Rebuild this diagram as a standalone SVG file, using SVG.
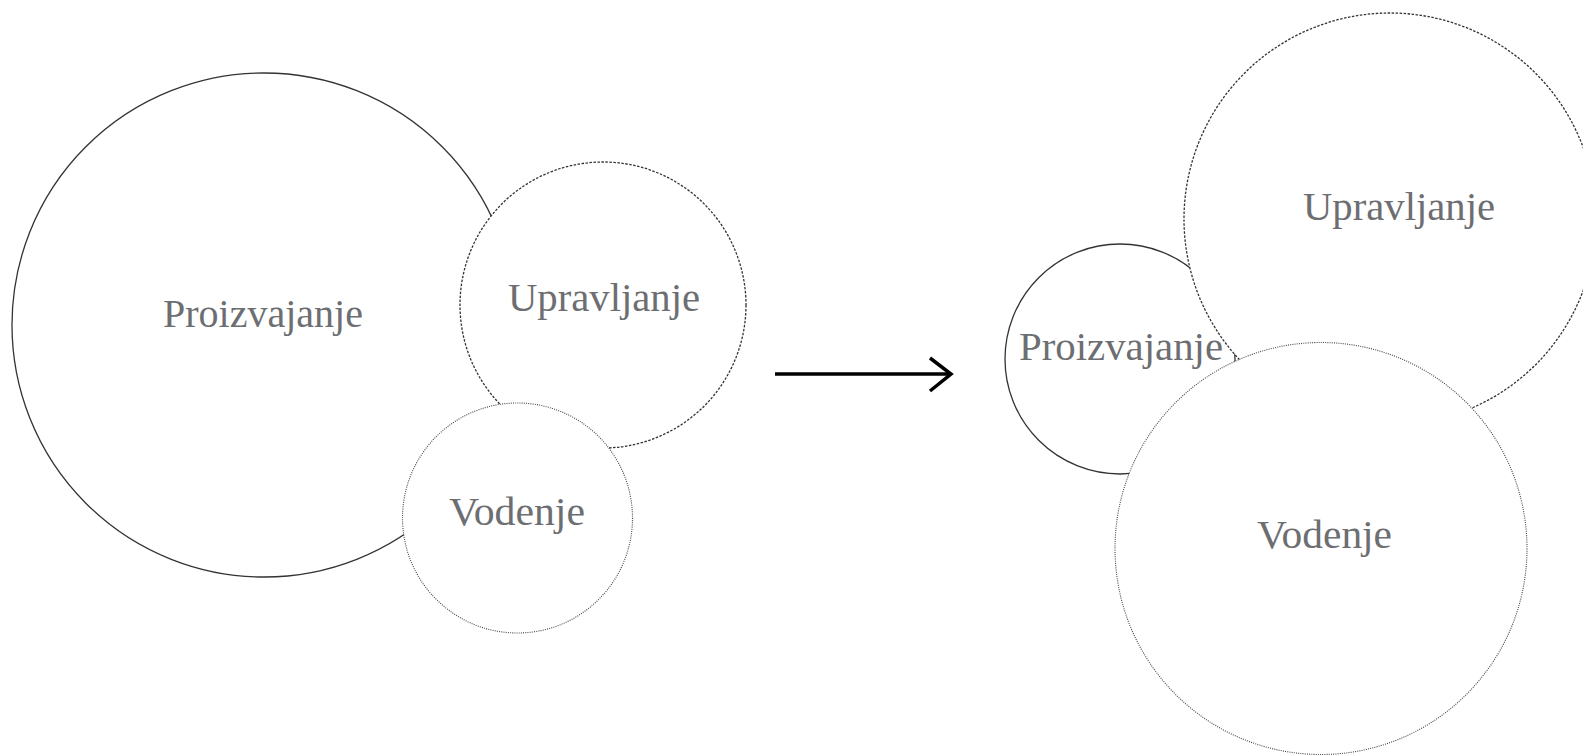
<svg xmlns="http://www.w3.org/2000/svg" width="1583" height="756" viewBox="0 0 1583 756">
<style>
.c{fill:#fff}
.solid{stroke:#333;stroke-width:1.3}
.dash{stroke:#333;stroke-width:1.3;stroke-dasharray:2.5 1.5}
.dot{stroke:#444;stroke-width:1.1;stroke-dasharray:1 1.2}
.t{font-family:"Liberation Serif","Times New Roman",serif;font-size:41px;fill:#6d6e71;text-anchor:middle}
</style>
<rect width="1583" height="756" fill="#fff"/>
<g id="left-proizvajanje"><circle class="c solid" cx="264" cy="325" r="252"/></g>
<g id="left-upravljanje"><circle class="c dash" cx="603" cy="305" r="143"/></g>
<g id="left-vodenje"><circle class="c dot" cx="517.5" cy="518" r="115"/></g>
<g id="right-proizvajanje"><circle class="c solid" cx="1120" cy="359" r="115"/></g>
<g id="right-upravljanje"><circle class="c dash" cx="1390" cy="219" r="206"/></g>
<g id="right-vodenje"><circle class="c dot" cx="1321" cy="548.5" r="206"/></g>
<g id="labels">
<text class="t" x="263" y="327" textLength="200" lengthAdjust="spacingAndGlyphs">Proizvajanje</text>
<text class="t" x="604" y="311" textLength="192" lengthAdjust="spacingAndGlyphs">Upravljanje</text>
<text class="t" x="517" y="525" textLength="136" lengthAdjust="spacingAndGlyphs">Vodenje</text>
<text class="t" x="1121" y="360" textLength="204" lengthAdjust="spacingAndGlyphs">Proizvajanje</text>
<text class="t" x="1399" y="220" textLength="192" lengthAdjust="spacingAndGlyphs">Upravljanje</text>
<text class="t" x="1324.5" y="548" textLength="135" lengthAdjust="spacingAndGlyphs">Vodenje</text>
</g>
<g id="connectors" fill="none" stroke="#000" stroke-width="3.5">
<line x1="775" y1="374" x2="950" y2="374"/>
<polyline points="930,358 951,374 930,391" stroke-linejoin="miter"/>
</g>
</svg>
